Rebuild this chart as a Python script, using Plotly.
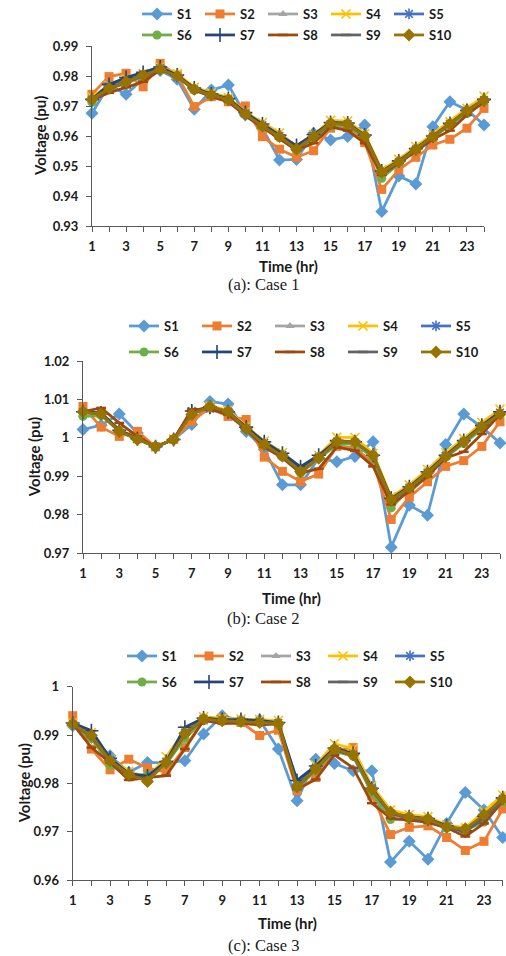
import plotly.graph_objects as go

hours = [1, 2, 3, 4, 5, 6, 7, 8, 9, 10, 11, 12, 13, 14, 15, 16, 17, 18, 19, 20, 21, 22, 23, 24]
x_tick_text = ["1", "", "3", "", "5", "", "7", "", "9", "", "11", "", "13", "", "15", "", "17", "", "19", "", "21", "", "23", ""]
series_names = ["S1", "S2", "S3", "S4", "S5", "S6", "S7", "S8", "S9", "S10"]
captions = ["(a): Case 1", "(b): Case 2", "(c): Case 3"]
y_title = "Voltage (pu)"
x_title = "Time (hr)"

c1_y_ticks = [0.93, 0.94, 0.95, 0.96, 0.97, 0.98, 0.99]
c1_y_labels = ["0.93", "0.94", "0.95", "0.96", "0.97", "0.98", "0.99"]
c2_y_ticks = [0.97, 0.98, 0.99, 1.00, 1.01, 1.02]
c2_y_labels = ["0.97", "0.98", "0.99", "1", "1.01", "1.02"]
c3_y_ticks = [0.96, 0.97, 0.98, 0.99, 1.00]
c3_y_labels = ["0.96", "0.97", "0.98", "0.99", "1"]

# ---------------- Case 1 ----------------
c1_s1 = [0.9676, 0.9770, 0.9739, 0.9790, 0.9818, 0.9789, 0.9689, 0.9753, 0.9770, 0.9670, 0.9626, 0.9520, 0.9522, 0.9609, 0.9587, 0.9598, 0.9637, 0.9348, 0.9467, 0.9440, 0.9631, 0.9714, 0.9687, 0.9637]
c1_s2 = [0.9739, 0.9798, 0.9809, 0.9764, 0.9842, 0.9803, 0.9698, 0.9731, 0.9714, 0.9700, 0.9598, 0.9556, 0.9529, 0.9551, 0.9626, 0.9630, 0.9578, 0.9422, 0.9487, 0.9529, 0.9570, 0.9589, 0.9626, 0.9692]
c1_s3 = [0.9718, 0.9762, 0.9780, 0.9802, 0.9824, 0.9798, 0.9754, 0.9735, 0.9720, 0.9672, 0.9632, 0.9595, 0.9552, 0.9595, 0.9638, 0.9638, 0.9596, 0.9470, 0.9510, 0.9553, 0.9596, 0.9638, 0.9680, 0.9718]
c1_s4 = [0.9730, 0.9768, 0.9790, 0.9808, 0.9830, 0.9808, 0.9762, 0.9744, 0.9728, 0.9680, 0.9645, 0.9610, 0.9565, 0.9605, 0.9652, 0.9650, 0.9608, 0.9488, 0.9522, 0.9565, 0.9605, 0.9648, 0.9692, 0.9733]
c1_s5 = [0.9720, 0.9765, 0.9785, 0.9806, 0.9826, 0.9796, 0.9755, 0.9736, 0.9722, 0.9675, 0.9636, 0.9600, 0.9560, 0.9600, 0.9640, 0.9640, 0.9598, 0.9478, 0.9513, 0.9555, 0.9598, 0.9640, 0.9682, 0.9720]
c1_s6 = [0.9712, 0.9758, 0.9775, 0.9800, 0.9825, 0.9800, 0.9752, 0.9735, 0.9718, 0.9672, 0.9630, 0.9594, 0.9553, 0.9592, 0.9632, 0.9636, 0.9590, 0.9459, 0.9508, 0.9552, 0.9595, 0.9636, 0.9675, 0.9714]
c1_s7 = [0.9722, 0.9772, 0.9795, 0.9812, 0.9830, 0.9803, 0.9760, 0.9740, 0.9725, 0.9678, 0.9640, 0.9603, 0.9568, 0.9605, 0.9645, 0.9643, 0.9603, 0.9483, 0.9517, 0.9558, 0.9600, 0.9642, 0.9685, 0.9722]
c1_s8 = [0.9720, 0.9744, 0.9762, 0.9781, 0.9820, 0.9800, 0.9753, 0.9731, 0.9714, 0.9667, 0.9629, 0.9592, 0.9553, 0.9576, 0.9630, 0.9618, 0.9576, 0.9470, 0.9509, 0.9548, 0.9589, 0.9618, 0.9670, 0.9714]
c1_s9 = [0.9721, 0.9757, 0.9779, 0.9801, 0.9821, 0.9799, 0.9755, 0.9736, 0.9721, 0.9672, 0.9632, 0.9597, 0.9556, 0.9597, 0.9641, 0.9639, 0.9599, 0.9478, 0.9512, 0.9555, 0.9597, 0.9639, 0.9683, 0.9719]
c1_s10 = [0.9722, 0.9759, 0.9781, 0.9803, 0.9822, 0.9800, 0.9756, 0.9737, 0.9722, 0.9673, 0.9633, 0.9598, 0.9557, 0.9598, 0.9642, 0.9640, 0.9600, 0.9480, 0.9514, 0.9556, 0.9598, 0.9640, 0.9684, 0.9720]

# ---------------- Case 2 ----------------
c2_s1 = [1.0022, 1.0033, 1.0062, 1.0013, 0.9977, 0.9996, 1.0035, 1.0095, 1.0088, 1.0017, 0.9970, 0.9878, 0.9878, 0.9948, 0.9938, 0.9952, 0.9990, 0.9716, 0.9825, 0.9799, 0.9983, 1.0062, 1.0028, 0.9987]
c2_s2 = [1.0082, 1.0028, 1.0004, 1.0017, 0.9977, 0.9996, 1.0043, 1.0078, 1.0056, 1.0048, 0.9950, 0.9913, 0.9887, 0.9906, 0.9978, 0.9974, 0.9935, 0.9788, 0.9846, 0.9886, 0.9926, 0.9941, 0.9978, 1.0042]
c2_s3 = [1.0066, 1.0060, 1.0016, 0.9995, 0.9977, 0.9996, 1.0064, 1.0080, 1.0068, 1.0024, 0.9984, 0.9952, 0.9912, 0.9946, 0.9988, 0.9988, 0.9952, 0.9836, 0.9868, 0.9907, 0.9950, 0.9988, 1.0028, 1.0064]
c2_s4 = [1.0066, 1.0064, 1.0022, 0.9998, 0.9977, 0.9997, 1.0068, 1.0083, 1.0072, 1.0030, 0.9992, 0.9962, 0.9922, 0.9955, 1.0002, 1.0001, 0.9960, 0.9847, 0.9878, 0.9918, 0.9962, 0.9998, 1.0040, 1.0075]
c2_s5 = [1.0067, 1.0063, 1.0019, 0.9997, 0.9977, 0.9996, 1.0070, 1.0076, 1.0068, 1.0026, 0.9987, 0.9956, 0.9920, 0.9950, 0.9990, 0.9988, 0.9953, 0.9840, 0.9871, 0.9910, 0.9953, 0.9990, 1.0031, 1.0066]
c2_s6 = [1.0056, 1.0058, 1.0020, 0.9998, 0.9977, 0.9996, 1.0066, 1.0080, 1.0066, 1.0025, 0.9985, 0.9950, 0.9908, 0.9946, 0.9982, 0.9985, 0.9948, 0.9818, 0.9868, 0.9905, 0.9950, 0.9985, 1.0022, 1.0060]
c2_s7 = [1.0068, 1.0065, 1.0020, 0.9998, 0.9977, 0.9996, 1.0070, 1.0080, 1.0068, 1.0028, 0.9990, 0.9960, 0.9925, 0.9955, 0.9993, 0.9990, 0.9955, 0.9843, 0.9873, 0.9912, 0.9955, 0.9993, 1.0033, 1.0068]
c2_s8 = [1.0068, 1.0078, 1.0039, 1.0004, 0.9977, 0.9996, 1.0074, 1.0074, 1.0061, 1.0022, 0.9976, 0.9948, 0.9909, 0.9920, 0.9976, 0.9967, 0.9926, 0.9827, 0.9861, 0.9900, 0.9948, 0.9964, 1.0010, 1.0061]
c2_s9 = [1.0067, 1.0061, 1.0017, 0.9996, 0.9977, 0.9996, 1.0062, 1.0081, 1.0068, 1.0023, 0.9983, 0.9952, 0.9912, 0.9947, 0.9989, 0.9989, 0.9954, 0.9838, 0.9869, 0.9908, 0.9951, 0.9989, 1.0029, 1.0062]
c2_s10 = [1.0068, 1.0062, 1.0017, 0.9996, 0.9977, 0.9996, 1.0061, 1.0082, 1.0069, 1.0024, 0.9983, 0.9953, 0.9913, 0.9948, 0.9991, 0.9990, 0.9955, 0.9840, 0.9870, 0.9909, 0.9952, 0.9990, 1.0030, 1.0062]

# ---------------- Case 3 ----------------
c3_s1 = [0.9919, 0.9895, 0.9857, 0.9823, 0.9843, 0.9843, 0.9847, 0.9902, 0.9940, 0.9930, 0.9931, 0.9871, 0.9764, 0.9850, 0.9841, 0.9826, 0.9826, 0.9637, 0.9680, 0.9643, 0.9717, 0.9781, 0.9745, 0.9688]
c3_s2 = [0.9940, 0.9871, 0.9828, 0.9850, 0.9832, 0.9823, 0.9874, 0.9931, 0.9935, 0.9926, 0.9899, 0.9910, 0.9785, 0.9812, 0.9868, 0.9874, 0.9774, 0.9694, 0.9709, 0.9712, 0.9688, 0.9661, 0.9680, 0.9747]
c3_s3 = [0.9921, 0.9897, 0.9845, 0.9818, 0.9810, 0.9842, 0.9900, 0.9932, 0.9929, 0.9927, 0.9925, 0.9923, 0.9795, 0.9828, 0.9868, 0.9857, 0.9785, 0.9736, 0.9728, 0.9724, 0.9709, 0.9704, 0.9732, 0.9766]
c3_s4 = [0.9925, 0.9905, 0.9850, 0.9825, 0.9812, 0.9855, 0.9910, 0.9938, 0.9935, 0.9933, 0.9932, 0.9930, 0.9800, 0.9838, 0.9882, 0.9872, 0.9795, 0.9745, 0.9735, 0.9731, 0.9714, 0.9708, 0.9742, 0.9776]
c3_s5 = [0.9922, 0.9900, 0.9849, 0.9820, 0.9812, 0.9845, 0.9905, 0.9934, 0.9931, 0.9930, 0.9928, 0.9925, 0.9798, 0.9832, 0.9870, 0.9860, 0.9790, 0.9738, 0.9729, 0.9725, 0.9711, 0.9700, 0.9730, 0.9768]
c3_s6 = [0.9920, 0.9893, 0.9838, 0.9817, 0.9818, 0.9840, 0.9893, 0.9930, 0.9928, 0.9926, 0.9925, 0.9922, 0.9790, 0.9826, 0.9866, 0.9856, 0.9780, 0.9725, 0.9726, 0.9722, 0.9707, 0.9704, 0.9720, 0.9762]
c3_s7 = [0.9925, 0.9909, 0.9852, 0.9820, 0.9815, 0.9845, 0.9916, 0.9935, 0.9932, 0.9932, 0.9930, 0.9926, 0.9806, 0.9836, 0.9873, 0.9862, 0.9790, 0.9738, 0.9731, 0.9727, 0.9712, 0.9702, 0.9732, 0.9770]
c3_s8 = [0.9923, 0.9874, 0.9843, 0.9807, 0.9812, 0.9816, 0.9871, 0.9930, 0.9924, 0.9924, 0.9921, 0.9923, 0.9788, 0.9808, 0.9859, 0.9832, 0.9759, 0.9728, 0.9724, 0.9719, 0.9708, 0.9690, 0.9717, 0.9763]
c3_s9 = [0.9922, 0.9896, 0.9846, 0.9816, 0.9809, 0.9842, 0.9901, 0.9932, 0.9929, 0.9927, 0.9925, 0.9923, 0.9792, 0.9829, 0.9869, 0.9858, 0.9786, 0.9737, 0.9728, 0.9724, 0.9709, 0.9700, 0.9728, 0.9764]
c3_s10 = [0.9923, 0.9899, 0.9847, 0.9819, 0.9804, 0.9843, 0.9903, 0.9933, 0.9930, 0.9928, 0.9926, 0.9924, 0.9793, 0.9830, 0.9871, 0.9859, 0.9788, 0.9740, 0.9730, 0.9726, 0.9710, 0.9706, 0.9735, 0.9768]

case1 = [c1_s1, c1_s2, c1_s3, c1_s4, c1_s5, c1_s6, c1_s7, c1_s8, c1_s9, c1_s10]
case2 = [c2_s1, c2_s2, c2_s3, c2_s4, c2_s5, c2_s6, c2_s7, c2_s8, c2_s9, c2_s10]
case3 = [c3_s1, c3_s2, c3_s3, c3_s4, c3_s5, c3_s6, c3_s7, c3_s8, c3_s9, c3_s10]
cases = [case1, case2, case3]
y_ticks = [c1_y_ticks, c2_y_ticks, c3_y_ticks]
y_labels = [c1_y_labels, c2_y_labels, c3_y_labels]

# ---------------- styles ----------------
colors = ["#5B9BD5", "#ED7D31", "#A5A5A5", "#FFC000", "#4472C4",
          "#70AD47", "#264478", "#9E480E", "#636363", "#997300"]
symbols = ["diamond", "square", "triangle-up", "x-thin", "asterisk",
           "circle", "cross-thin", "line-ew", "line-ew", "diamond"]
sizes = [10, 9, 8, 9, 9, 9, 10, 7, 7, 10]
open_symbol = [False, False, False, True, True, False, True, True, True, False]

W, H = 506, 956
FONT = "Lato"
TXT = "#1a1a1a"
AX = "#595959"

# pixel geometry of each panel
panels = [
    dict(l=92, r=484, t=46, b=226, yr=[0.93, 0.99], leg_x=137, leg_y=[14, 35], ew=18,
         xt_y=266, cap_y=285, yt_x=40),
    dict(l=83, r=500, t=361, b=553.3, yr=[0.97, 1.02], leg_x=124, leg_y=[326, 352], ew=28,
         xt_y=598, cap_y=618, yt_x=34),
    dict(l=72.7, r=502.7, t=686.7, b=880, yr=[0.96, 1.0], leg_x=122, leg_y=[656, 682], ew=22,
         xt_y=923, cap_y=945, yt_x=24),
]

fig = go.Figure()
layout = dict(width=W, height=H, margin=dict(l=0, r=0, t=0, b=0, autoexpand=False),
              paper_bgcolor="white", plot_bgcolor="white", showlegend=True,
              font=dict(family=FONT, color=TXT))
annotations = []

for p_i, (p, data) in enumerate(zip(panels, cases)):
    sfx = "" if p_i == 0 else str(p_i + 1)
    xa, ya = "x" + sfx, "y" + sfx
    for s_i, name in enumerate(series_names):
        leg_idx = p_i * 2 + (0 if s_i < 5 else 1) + 1
        leg = "legend" if leg_idx == 1 else "legend" + str(leg_idx)
        c = colors[s_i]
        if open_symbol[s_i]:
            marker = dict(symbol=symbols[s_i], size=sizes[s_i], color=c,
                          line=dict(width=1.6 if symbols[s_i] != "line-ew" else 2.5, color=c))
        else:
            marker = dict(symbol=symbols[s_i], size=sizes[s_i], color=c, line=dict(width=0))
        fig.add_trace(go.Scatter(
            x=hours, y=data[s_i], name=name, mode="lines+markers",
            line=dict(color=c, width=2.75), marker=marker,
            xaxis=xa, yaxis=ya, legend=leg, cliponaxis=False, showlegend=True))

    layout["xaxis" + sfx] = dict(
        domain=[p["l"] / W, p["r"] / W], anchor=ya, range=[1, 24],
        tickmode="array", tickvals=hours, ticktext=x_tick_text,
        ticks="outside", ticklen=5, tickcolor=AX, tickwidth=1,
        showline=True, linecolor=AX, linewidth=1, showgrid=False, zeroline=False,
        tickfont=dict(family=FONT, size=13, weight="bold", color=TXT),
        ticklabelstandoff=3, automargin=False)
    layout["yaxis" + sfx] = dict(
        domain=[1 - p["b"] / H, 1 - p["t"] / H], anchor=xa, range=p["yr"],
        tickmode="array", tickvals=y_ticks[p_i], ticktext=y_labels[p_i],
        ticks="outside", ticklen=5, tickcolor=AX, tickwidth=1,
        showline=True, linecolor=AX, linewidth=1, showgrid=False, zeroline=False,
        tickfont=dict(family=FONT, size=13, weight="bold", color=TXT),
        ticklabelstandoff=5, automargin=False)

    for r_i in range(2):
        leg_idx = p_i * 2 + r_i + 1
        leg = "legend" if leg_idx == 1 else "legend" + str(leg_idx)
        layout[leg] = dict(
            x=p["leg_x"] / W, y=1 - p["leg_y"][r_i] / H, xanchor="left", yanchor="middle",
            orientation="h", entrywidth=p["ew"], entrywidthmode="pixels", itemwidth=30,
            bgcolor="rgba(0,0,0,0)", borderwidth=0, tracegroupgap=0,
            font=dict(family=FONT, size=13, weight="bold", color=TXT))

    annotations.append(dict(
        text=y_title, textangle=-90, xref="paper", yref="paper",
        x=p["yt_x"] / W, y=1 - (p["t"] + p["b"]) / 2 / H, xanchor="center", yanchor="middle",
        showarrow=False, font=dict(family=FONT, size=15, weight="bold", color=TXT)))
    annotations.append(dict(
        text=x_title, xref="paper", yref="paper",
        x=(p["l"] + p["r"]) / 2 / W, y=1 - p["xt_y"] / H, xanchor="center", yanchor="middle",
        showarrow=False, font=dict(family=FONT, size=15, weight="bold", color=TXT)))
    annotations.append(dict(
        text=captions[p_i], xref="paper", yref="paper",
        x=263 / W, y=1 - p["cap_y"] / H, xanchor="center", yanchor="middle",
        showarrow=False, font=dict(family="Liberation Serif", size=16.5, color=TXT)))

layout["annotations"] = annotations
fig.update_layout(**layout)
fig.write_html("out.html", config={"displayModeBar": False},
               post_script="document.body.style.margin='0px';document.body.style.overflow='hidden';")
